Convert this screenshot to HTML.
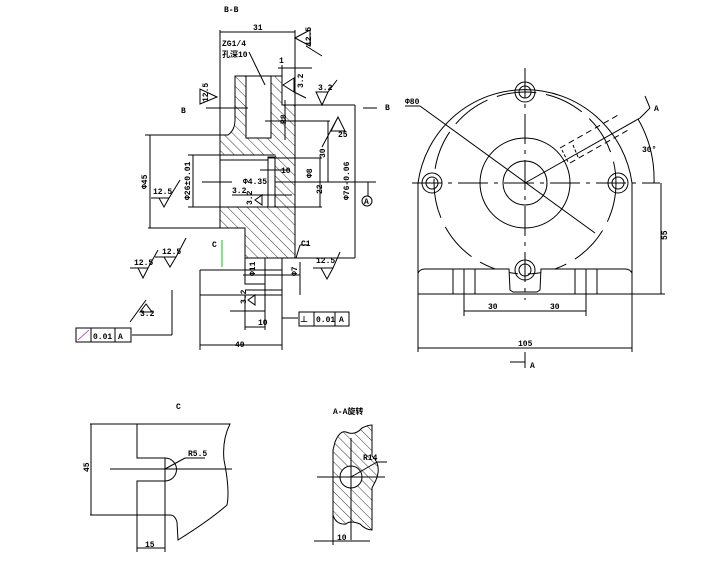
<!DOCTYPE html>
<html><head><style>
html,body{margin:0;padding:0;background:#fff;}
svg{display:block;}
text{font-family:"Liberation Mono","Noto Sans CJK SC",monospace;font-size:8px;font-weight:bold;fill:#000;}
</style></head><body>
<svg width="724" height="582" viewBox="0 0 724 582" xmlns="http://www.w3.org/2000/svg">
<defs>
<pattern id="h" width="7" height="7" patternUnits="userSpaceOnUse" patternTransform="rotate(-45)">
<line x1="0" y1="0" x2="0" y2="7" stroke="#000" stroke-width="0.8"/></pattern>
</defs>
<g fill="none" stroke="#000" stroke-width="1">
<path d="M235,76 L282,76 L282,105 L295,105 L295,258 L245,258 L245,228 L220,228 L220,207 L275,207 L275,155 L220,155 L220,135 L228,135 Q235,130 235,120 Z" fill="url(#h)"/>
<rect x="246" y="76" width="25" height="62" fill="#fff"/>
<rect x="220" y="155" width="55" height="52" fill="#fff" stroke="none"/>
<line x1="220" y1="155" x2="275" y2="155"/><line x1="220" y1="207" x2="275" y2="207"/>
<rect x="268" y="157" width="7" height="50"/>
<line x1="220" y1="160" x2="268" y2="160"/>
<line x1="220" y1="30" x2="220" y2="228"/>
<line x1="295" y1="30" x2="295" y2="105"/>
<line x1="220" y1="32" x2="295" y2="32"/>
<line x1="145" y1="135" x2="228" y2="135"/>
<line x1="148" y1="228" x2="220" y2="228"/>
<line x1="150" y1="135" x2="150" y2="228"/>
<line x1="188" y1="155" x2="220" y2="155"/><line x1="188" y1="207" x2="220" y2="207"/>
<line x1="193" y1="155" x2="193" y2="207"/>
<line x1="202" y1="182" x2="232" y2="182"/>
<line x1="295" y1="105" x2="355" y2="105"/>
<line x1="295" y1="258" x2="355" y2="258"/>
<line x1="355" y1="105" x2="355" y2="258"/>
<line x1="275" y1="182" x2="370" y2="182"/>
<line x1="268" y1="158" x2="322" y2="158"/><line x1="268" y1="207" x2="322" y2="207"/>
<line x1="320" y1="158" x2="320" y2="207"/>
<line x1="260" y1="170" x2="290" y2="170"/>
<line x1="232" y1="195" x2="292" y2="195"/>
<line x1="265" y1="121" x2="330" y2="121"/>
<line x1="328" y1="121" x2="328" y2="182"/>
<line x1="278" y1="68" x2="312" y2="68"/><line x1="282" y1="65" x2="282" y2="105"/>
<line x1="285" y1="100" x2="285" y2="140"/>
<line x1="248" y1="108" x2="206" y2="108"/>
<line x1="363" y1="108" x2="377" y2="108"/>
<line x1="249" y1="52" x2="265" y2="85"/>
<line x1="360" y1="182" x2="376" y2="182"/><line x1="368" y1="182" x2="368" y2="196"/>
<circle cx="367" cy="201" r="5"/>
<rect x="245" y="258" width="20" height="26"/>
<line x1="200" y1="270" x2="282" y2="270"/>
<line x1="200" y1="270" x2="200" y2="350"/>
<line x1="282" y1="258" x2="282" y2="350"/>
<line x1="200" y1="295" x2="282" y2="295"/>
<line x1="245" y1="290" x2="282" y2="290"/>
<line x1="243" y1="275" x2="300" y2="275"/>
<line x1="300" y1="262" x2="300" y2="295"/>
<line x1="230" y1="311" x2="265" y2="311"/>
<line x1="245" y1="295" x2="245" y2="330"/>
<line x1="265" y1="284" x2="265" y2="330"/>
<line x1="245" y1="327" x2="265" y2="327"/>
<line x1="200" y1="345" x2="282" y2="345"/>
<line x1="282" y1="318" x2="298" y2="318"/>
<rect x="299" y="312" width="50" height="14"/>
<line x1="314" y1="312" x2="314" y2="326"/><line x1="335" y1="312" x2="335" y2="326"/>
<line x1="172" y1="290" x2="172" y2="335"/><line x1="132" y1="335" x2="172" y2="335"/>
<rect x="76" y="328" width="55" height="14"/>
<line x1="91" y1="328" x2="91" y2="342"/><line x1="115" y1="328" x2="115" y2="342"/>
<line x1="78" y1="340" x2="89" y2="330" stroke="#c060c0"/>
<path d="M295,38 L310,30 L310,46 Z M306,46 L322,56"/>
<path d="M217,97 L200,89 L200,104 Z"/>
<path d="M283,85 L294,78 L294,92 Z M294,92 L306,98"/>
<path d="M322,105 L316,92 L328,92 Z M328,92 L337,80"/>
<path d="M338,117 L331,131 L345,131 Z M322,147 L338,117"/>
<path d="M159,198 L164,207 L169,198 Z M151,198 L169,198 L180,180"/>
<path d="M255,200 L262,195 L262,205 Z"/>
<path d="M321,268 L327,279 L333,268 Z M313,268 L333,268 L340,252"/>
<path d="M138,268 L143,278 L148,268 Z M130,268 L148,268 L158,250"/>
<path d="M164,257 L170,267 L176,257 Z M155,257 L176,257 L186,238"/>
<path d="M146,304 L140,312 L152,312 Z M130,322 L146,300"/>
<path d="M248,300 L255,295 L255,305 Z"/>
<line x1="222" y1="240" x2="222" y2="267" stroke="#00cc00"/>
<line x1="300" y1="245" x2="296" y2="258"/><line x1="300" y1="245" x2="308" y2="245"/>
</g>
<g>
<text x="224" y="12">B-B</text>
<text x="253" y="30">31</text>
<text x="222" y="46">ZG1/4</text>
<text x="222" y="57">孔深10</text>
<text x="279" y="63">1</text>
<text x="311" y="46" transform="rotate(-90 311 46)">12.5</text>
<text x="208" y="102" transform="rotate(-90 208 102)">12.5</text>
<text x="303" y="88" transform="rotate(-90 303 88)">3.2</text>
<text x="318" y="90">3.2</text>
<text x="338" y="137">25</text>
<text x="181" y="113">B</text>
<text x="385" y="110">B</text>
<text x="286" y="124" transform="rotate(-90 286 124)">R8</text>
<text x="325" y="158" transform="rotate(-90 325 158)">30</text>
<text x="281" y="173">10</text>
<text x="243" y="184">Φ4.35</text>
<text x="312" y="178" transform="rotate(-90 312 178)">Φ8</text>
<text x="322" y="194" transform="rotate(-90 322 194)">22</text>
<text x="349" y="200" transform="rotate(-90 349 200)">Φ76-0.06</text>
<text x="147" y="189" transform="rotate(-90 147 189)">Φ45</text>
<text x="190" y="200" transform="rotate(-90 190 200)">Φ26±0.01</text>
<text x="153" y="194">12.5</text>
<text x="232" y="193">3.2</text>
<text x="252" y="205" transform="rotate(-90 252 205)">3.2</text>
<text x="364" y="204" font-size="6">A</text>
<text x="212" y="247">C</text>
<text x="301" y="246">C1</text>
<text x="316" y="263">12.5</text>
<text x="134" y="265">12.5</text>
<text x="162" y="254">12.5</text>
<text x="140" y="316">3.2</text>
<text x="255" y="276" transform="rotate(-90 255 276)">Φ11</text>
<text x="297" y="276" transform="rotate(-90 297 276)">Φ7</text>
<text x="246" y="304" transform="rotate(-90 246 304)">3.2</text>
<text x="258" y="325">10</text>
<text x="235" y="347">40</text>
<text x="316" y="322">0.01</text>
<text x="339" y="322">A</text>
<text x="300" y="322" fill="#3366ff">⊥</text>
<text x="93" y="339">0.01</text>
<text x="118" y="339">A</text>
</g>
<g fill="none" stroke="#000" stroke-width="1">
<path d="M418,294 L418,183 A108,108 0 0 1 632,183 L632,294"/>
<circle cx="525" cy="183" r="91" stroke-dasharray="40,10"/>
<circle cx="525" cy="183" r="45"/>
<circle cx="525" cy="183" r="22"/>
<g><circle cx="525" cy="92" r="10"/><circle cx="525" cy="92" r="6"/>
<circle cx="432" cy="183" r="10"/><circle cx="432" cy="183" r="6"/>
<circle cx="618" cy="183" r="10"/><circle cx="618" cy="183" r="6"/></g>
<path d="M418,294 L418,273 Q420,269 425,269 L509,269 L510,290 L513,292 L537,292 L540,290 L541,269 L625,269 Q630,269 632,273 L632,294 Z" fill="#fff"/>
<circle cx="525" cy="270" r="10"/><circle cx="525" cy="270" r="6"/>
<line x1="453" y1="269" x2="453" y2="294"/><line x1="464" y1="269" x2="464" y2="294"/><line x1="475" y1="269" x2="475" y2="294"/>
<line x1="575" y1="269" x2="575" y2="294"/><line x1="586" y1="269" x2="586" y2="294"/><line x1="597" y1="269" x2="597" y2="294"/>
<line x1="412" y1="183" x2="660" y2="183" stroke-dasharray="30,6,4,6"/>
<line x1="525" y1="68" x2="525" y2="300" stroke-dasharray="30,6,4,6"/>
<line x1="418" y1="294" x2="665" y2="294"/>
<line x1="661" y1="183" x2="661" y2="294"/>
<line x1="464" y1="294" x2="464" y2="316"/><line x1="586" y1="294" x2="586" y2="316"/>
<line x1="464" y1="311" x2="586" y2="311"/>
<line x1="418" y1="294" x2="418" y2="352"/><line x1="632" y1="294" x2="632" y2="352"/>
<line x1="418" y1="348" x2="632" y2="348"/>
<line x1="525" y1="352" x2="525" y2="368"/><line x1="510" y1="362" x2="525" y2="362"/>
<line x1="405" y1="106" x2="420" y2="106"/>
<line x1="420" y1="106" x2="595" y2="233"/>
<line x1="525" y1="183" x2="640" y2="118"/>
<line x1="640" y1="118" x2="650" y2="108"/>
<line x1="650" y1="108" x2="645" y2="96"/>
<path d="M638,119 A120,120 0 0 1 654,183"/>
<path d="M560,148 L620,114 M570,163 L630,129" stroke-dasharray="6,4"/>
<path d="M562,150 L568,162 M573,145 L578,157" stroke-dasharray="3,2"/>
</g>
<g>
<text x="405" y="104">Φ80</text>
<text x="654" y="111">A</text>
<text x="642" y="152">30°</text>
<text x="667" y="240" transform="rotate(-90 667 240)">55</text>
<text x="488" y="309">30</text>
<text x="550" y="309">30</text>
<text x="518" y="346">105</text>
<text x="530" y="368">A</text>
</g>
<g fill="none" stroke="#000" stroke-width="1">
<path d="M90,424 L230,424 Q222,440 224,460 Q230,490 227,505 Q210,520 178,540 L177,522 Q175,515 170,515 L90,515"/>
<path d="M137,424 L137,458 L165,458 A10,10 0 0 1 165,481 L137,481 L137,552"/>
<line x1="165" y1="458" x2="165" y2="552"/>
<line x1="110" y1="469" x2="232" y2="469"/>
<line x1="91" y1="424" x2="91" y2="515"/>
<line x1="137" y1="548" x2="165" y2="548"/>
<line x1="165" y1="469" x2="185" y2="458"/><line x1="185" y1="458" x2="205" y2="458"/>
</g>
<g>
<text x="176" y="409">C</text>
<text x="89" y="472" transform="rotate(-90 89 472)">45</text>
<text x="188" y="456">R5.5</text>
<text x="145" y="547">15</text>
</g>
<g fill="none" stroke="#000" stroke-width="1">
<path d="M335,442 Q340,430 346,432 Q355,436 362,428 Q368,425 372,425 L372,456 Q382,465 376,480 L372,488 L372,530 Q366,530 360,524 Q350,520 346,524 Q336,525 333,515 L333,450 Z" fill="url(#h)"/>
<circle cx="351" cy="477" r="11" fill="#fff"/>
<line x1="351" y1="438" x2="351" y2="540"/>
<line x1="317" y1="477" x2="385" y2="477"/>
<line x1="333" y1="515" x2="333" y2="545"/>
<line x1="314" y1="541" x2="370" y2="541"/>
<line x1="351" y1="477" x2="377" y2="462"/><line x1="377" y1="462" x2="387" y2="462"/>
</g>
<g>
<text x="333" y="414">A-A旋转</text>
<text x="363" y="460">R14</text>
<text x="337" y="540">10</text>
</g>
</svg>
</body></html>
